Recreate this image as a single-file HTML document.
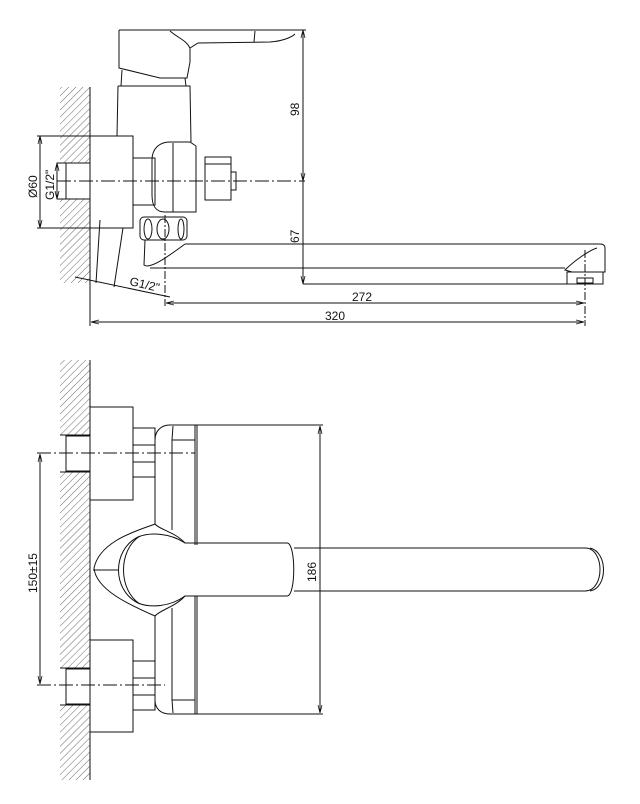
<!DOCTYPE html>
<html><head><meta charset="utf-8"><style>
html,body{margin:0;padding:0;background:#fff;}
svg{display:block;}
text{font-family:"Liberation Sans",sans-serif;font-size:12px;fill:#111;}
</style></head><body>
<svg width="640" height="804" viewBox="0 0 640 804" xmlns="http://www.w3.org/2000/svg">
<defs>
<pattern id="h" width="5" height="5" patternUnits="userSpaceOnUse" patternTransform="rotate(45)">
<line x1="0" y1="0" x2="0" y2="5" stroke="#444" stroke-width="0.8"/>
</pattern>
<marker id="a" markerWidth="8" markerHeight="6" refX="8" refY="3" orient="auto-start-reverse"><path d="M0,1 L8,3 L0,5" fill="none" stroke="#111" stroke-width="0.8"/></marker>
</defs>
<g fill="none" stroke="#111" stroke-width="1">
<!-- ===== TOP VIEW ===== -->
<rect x="60" y="87" width="30" height="76" fill="url(#h)" stroke="none"/>
<rect x="60" y="199" width="30" height="84" fill="url(#h)" stroke="none"/>
<line x1="90" y1="87" x2="90" y2="326"/>
<rect x="57" y="163" width="33" height="36" fill="#fff"/>
<line x1="66" y1="163" x2="66" y2="199"/>
<rect x="90" y="136" width="43" height="92" fill="#fff"/>
<rect x="133" y="158" width="22" height="47"/>
<line x1="133" y1="205" x2="133" y2="215"/>
<!-- handle upper -->
<path d="M119,30 L119,68 L160,78 L187,78 L190,62 L190,48"/>
<line x1="119" y1="30" x2="306" y2="30"/>
<path d="M122,70 L121,86 M185,78 L186,86"/>
<path d="M170,31 C178,38 186,40 190,48 L198,43 L270,42 C285,41 293,36 295,34"/>
<path d="M255,31 L254,42"/>
<path d="M118,86 L190,86 L191,142 M118,86 L117,136"/>
<!-- valve body -->
<path d="M196,146 L196,212 L165,212 C155,212 152,205 152,195 L152,160 C152,148 160,142 170,142 L190,142 L196,146"/>
<line x1="173" y1="143" x2="173" y2="212"/>
<rect x="205" y="157" width="26" height="43"/>
<line x1="205" y1="164" x2="231" y2="164"/>
<rect x="231" y="172" width="5" height="18"/>
<line x1="57" y1="181" x2="305" y2="181" stroke-dasharray="14,3,2,3"/>
<!-- aerator ring -->
<rect x="140" y="217" width="47" height="23" rx="4"/>
<ellipse cx="148" cy="229" rx="4" ry="10"/>
<ellipse cx="163" cy="229" rx="6" ry="10"/>
<ellipse cx="181" cy="229" rx="3" ry="10"/>
<path d="M145,240 L144,265 C150,270 170,255 185,244"/>
<!-- spout -->
<path d="M185,244 L600,244 C604,244 605,246 605,248 L605,272 L572,272 L565,270 C575,260 590,250 597,248"/>
<path d="M150,268 L565,268"/>
<rect x="567" y="272" width="36" height="12"/>
<rect x="577" y="278" width="16" height="5"/>
<line x1="585" y1="250" x2="585" y2="326" stroke-dasharray="8,2,2,2"/>
<line x1="165" y1="215" x2="165" y2="306" stroke-dasharray="8,2,2,2"/>
<path d="M100,220 L96,283 M123,228 L114,287 M75,277 L170,297"/>
<line x1="303" y1="284" x2="603" y2="284"/>
<line x1="303" y1="30" x2="303" y2="181" marker-start="url(#a)" marker-end="url(#a)"/>
<line x1="303" y1="181" x2="303" y2="284" marker-end="url(#a)"/>
<line x1="166" y1="303" x2="584" y2="303" marker-start="url(#a)" marker-end="url(#a)"/>
<line x1="91" y1="322" x2="584" y2="322" marker-start="url(#a)" marker-end="url(#a)"/>
<line x1="37" y1="136" x2="90" y2="136"/>
<line x1="37" y1="228" x2="90" y2="228"/>
<line x1="40" y1="136" x2="40" y2="228" marker-start="url(#a)" marker-end="url(#a)"/>
<line x1="57" y1="163" x2="57" y2="199" marker-start="url(#a)" marker-end="url(#a)"/>

<!-- ===== BOTTOM VIEW ===== -->
<rect x="60" y="360" width="30" height="75" fill="url(#h)" stroke="none"/>
<rect x="60" y="472" width="30" height="196" fill="url(#h)" stroke="none"/>
<rect x="60" y="705" width="30" height="75" fill="url(#h)" stroke="none"/>
<line x1="90" y1="360" x2="90" y2="780"/>
<line x1="60" y1="435" x2="90" y2="435"/><line x1="60" y1="472" x2="90" y2="472"/>
<line x1="60" y1="668" x2="90" y2="668"/><line x1="60" y1="705" x2="90" y2="705"/>
<rect x="66" y="436" width="24" height="35"/>
<rect x="66" y="669" width="24" height="35"/>
<rect x="90" y="407" width="43" height="93"/>
<rect x="90" y="640" width="43" height="92"/>
<rect x="133" y="428" width="22" height="49"/>
<line x1="133" y1="445" x2="155" y2="445"/><line x1="133" y1="462" x2="155" y2="462"/>
<rect x="133" y="661" width="22" height="49"/>
<line x1="133" y1="678" x2="155" y2="678"/><line x1="133" y1="695" x2="155" y2="695"/>
<!-- body -->
<path d="M197,425 L170,425 C160,425 155,432 155,440 L155,524"/>
<path d="M155,616 L155,700 C155,708 160,714 170,714 L197,714"/>
<line x1="197" y1="425" x2="197" y2="545"/>
<line x1="197" y1="596" x2="197" y2="714"/>
<line x1="195" y1="425" x2="195" y2="545"/>
<line x1="195" y1="596" x2="195" y2="714"/>
<path d="M173,426 L172,440 L195,440 M172,440 L172,530"/>
<path d="M173,713 L172,700 L195,700 M172,700 L172,608"/>
<!-- lever -->
<path d="M155,524 C140,530 100,540 94,568 C96,590 130,605 155,616"/>
<path d="M155,524 C160,530 175,532 185,543 L287,543 C296,543 296,596 287,596 L185,596 C175,607 160,610 155,616"/>
<path d="M185,543 C170,533 150,532 138,537 C112,550 112,590 138,603 C150,608 170,607 185,596"/>
<path d="M140,536 C118,550 118,590 140,604"/>
<!-- spout -->
<path d="M294,548 L585,548 C605,548 605,591 585,591 L294,591"/>
<path d="M590,548 C608,552 608,588 590,591"/>
<line x1="37" y1="453" x2="195" y2="453" stroke-dasharray="14,3,2,3"/>
<line x1="37" y1="685" x2="165" y2="685" stroke-dasharray="14,3,2,3"/>
<line x1="93" y1="570" x2="118" y2="570"/>
<line x1="40" y1="454" x2="40" y2="684" marker-start="url(#a)" marker-end="url(#a)"/>
<line x1="197" y1="425" x2="323" y2="425"/>
<line x1="197" y1="714" x2="323" y2="714"/>
<line x1="320" y1="426" x2="320" y2="713" marker-start="url(#a)" marker-end="url(#a)"/>
</g>
<text transform="translate(299,116) rotate(-90)">98</text>
<text transform="translate(299,243) rotate(-90)">67</text>
<text x="352" y="301">272</text>
<text x="325" y="320">320</text>
<text transform="translate(37,198) rotate(-90)">Ø60</text>
<text transform="translate(54,200) rotate(-90)">G1/2"</text>
<text transform="translate(129,285) rotate(13)">G1/2"</text>
<text transform="translate(37,593) rotate(-90)">150±15</text>
<text transform="translate(316,582) rotate(-90)">186</text>
</svg>
</body></html>
